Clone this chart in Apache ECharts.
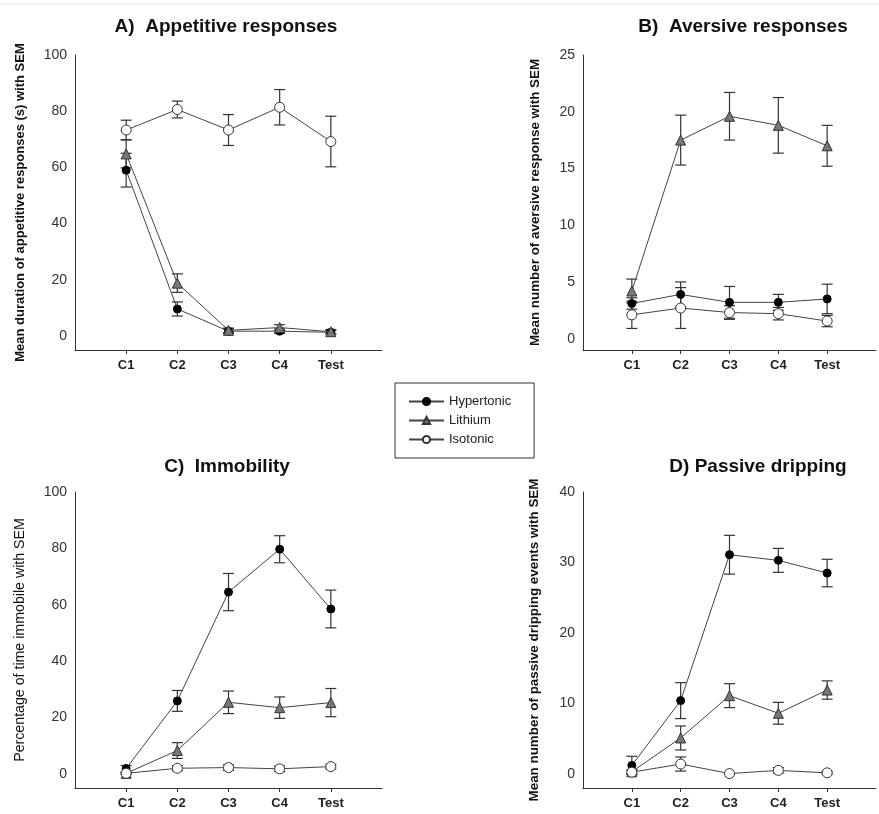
<!DOCTYPE html>
<html>
<head>
<meta charset="utf-8">
<script src="https://cdn.jsdelivr.net/npm/echarts@6/dist/echarts.min.js"></script>
<style>html,body{margin:0;padding:0;background:#fff;}#c{width:879px;height:814px;}</style>
</head>
<body>
<div id="c"></div>
<script>
// ---------- data ----------
var categories = ['C1', 'C2', 'C3', 'C4', 'Test'];
var groups = ['Hypertonic', 'Lithium', 'Isotonic'];

// A) Appetitive responses
var appHyper = [59.0, 9.6, 1.7, 1.7, 1.3];
var appHyperSem = [6.0, 2.5, 0.8, 0.8, 0.6];
var appLith = [64.8, 18.8, 2.0, 3.0, 1.5];
var appLithSem = [5.0, 3.3, 0.8, 1.0, 0.8];
var appIso = [73.3, 80.6, 73.3, 81.4, 69.2];
var appIsoSem = [3.5, 3.0, 5.5, 6.3, 9.0];

// B) Aversive responses
var avHyper = [3.1, 3.9, 3.2, 3.2, 3.5];
var avHyperSem = [0.5, 1.1, 1.4, 0.7, 1.3];
var avLith = [4.2, 17.5, 19.6, 18.8, 17.0];
var avLithSem = [1.05, 2.2, 2.1, 2.45, 1.8];
var avIso = [2.1, 2.7, 2.3, 2.2, 1.55];
var avIsoSem = [1.2, 1.8, 0.6, 0.55, 0.5];

// C) Immobility
var imHyper = [1.9, 25.9, 64.5, 79.7, 58.5];
var imHyperSem = [1.1, 3.7, 6.6, 4.8, 6.7];
var imLith = [0.2, 8.3, 25.4, 23.5, 25.3];
var imLithSem = [0.3, 2.8, 4.0, 3.8, 5.0];
var imIso = [0.2, 2.0, 2.25, 1.8, 2.6];
var imIsoSem = [0.3, 0.9, 1.0, 1.0, 0.8];

// D) Passive dripping
var pdHyper = [1.2, 10.4, 31.1, 30.3, 28.5];
var pdHyperSem = [1.3, 2.55, 2.75, 1.7, 1.95];
var pdLith = [0.3, 5.1, 11.1, 8.6, 11.9];
var pdLithSem = [0.3, 1.7, 1.7, 1.55, 1.3];
var pdIso = [0.24, 1.4, 0.05, 0.5, 0.15];
var pdIsoSem = [0.3, 1.0, 0.1, 0.4, 0.2];

// axis ticks
var ticksA = [0, 20, 40, 60, 80, 100];
var ticksB = [0, 5, 10, 15, 20, 25];
var ticksC = [0, 20, 40, 60, 80, 100];
var ticksD = [0, 10, 20, 30, 40];

// ---------- chart ----------
var xLabels = [''].concat(categories).concat(['']);
var FONT = 'Liberation Sans, Arial, sans-serif';

var panels = [
  { title: 'A)  Appetitive responses', yName: 'Mean duration of appetitive responses (s) with SEM',
    nameBold: true, nameSize: 13, nameGap: 48, min: -5, max: 100, ticks: ticksA,
    grid: { left: 75, top: 55, width: 307, height: 295 }, titlePos: [221, 12],
    series: [[appHyper, appHyperSem], [appLith, appLithSem], [appIso, appIsoSem]] },
  { title: 'B)  Aversive responses', yName: 'Mean number of aversive response with SEM',
    nameBold: true, nameSize: 13.4, nameGap: 41, min: -1, max: 25, ticks: ticksB,
    grid: { left: 583, top: 55, width: 307, height: 295 }, titlePos: [738, 12],
    series: [[avHyper, avHyperSem], [avLith, avLithSem], [avIso, avIsoSem]] },
  { title: 'C)  Immobility', yName: 'Percentage of time immobile with SEM',
    nameBold: false, nameSize: 14.2, nameGap: 48, min: -5, max: 100, ticks: ticksC,
    grid: { left: 75, top: 492, width: 307, height: 296 }, titlePos: [222, 452],
    series: [[imHyper, imHyperSem], [imLith, imLithSem], [imIso, imIsoSem]] },
  { title: 'D) Passive dripping', yName: 'Mean number of passive dripping events with SEM',
    nameBold: true, nameSize: 13.4, nameGap: 42, min: -2, max: 40, ticks: ticksD,
    grid: { left: 583, top: 492, width: 307, height: 296 }, titlePos: [753, 452],
    series: [[pdHyper, pdHyperSem], [pdLith, pdLithSem], [pdIso, pdIsoSem]] }
];

var styles = {
  Hypertonic: { symbol: 'circle', symbolSize: 8, itemStyle: { color: '#000', borderColor: '#000', borderWidth: 1 } },
  Lithium: { symbol: 'triangle', symbolSize: 10, itemStyle: { color: '#777', borderColor: '#333', borderWidth: 1 } },
  Isotonic: { symbol: 'circle', symbolSize: 10, itemStyle: { color: '#fff', borderColor: '#333', borderWidth: 1 } }
};

var option = {
  animation: false,
  backgroundColor: '#fff',
  title: [],
  grid: [],
  xAxis: [],
  yAxis: [],
  series: [],
  graphic: [{ type: 'line', shape: { x1: 0, y1: 4, x2: 879, y2: 4 }, style: { stroke: '#e6e6e6', lineWidth: 1 } }],
  legend: {
    data: groups,
    orient: 'vertical',
    left: 395, top: 383,
    padding: [12, 23, 12, 13],
    itemWidth: 35, itemHeight: 9, itemGap: 6,
    borderColor: '#333', borderWidth: 1,
    textStyle: { fontFamily: FONT, fontSize: 13, color: '#222', lineHeight: 13 }
  }
};

function errRender(params, api) {
  var x = api.value(0);
  var lo = api.coord([x, api.value(1)]);
  var hi = api.coord([x, api.value(2)]);
  var w = 5.5;
  var st = { stroke: '#333', lineWidth: 1.2 };
  return { type: 'group', children: [
    { type: 'line', shape: { x1: lo[0], y1: lo[1], x2: hi[0], y2: hi[1] }, style: st },
    { type: 'line', shape: { x1: lo[0] - w, y1: lo[1], x2: lo[0] + w, y2: lo[1] }, style: st },
    { type: 'line', shape: { x1: hi[0] - w, y1: hi[1], x2: hi[0] + w, y2: hi[1] }, style: st }
  ] };
}

panels.forEach(function (p, k) {
  option.title.push({
    text: p.title, left: p.titlePos[0], top: p.titlePos[1], textAlign: 'center',
    textStyle: { fontFamily: FONT, fontSize: 19, fontWeight: 'bold', color: '#111' }
  });
  option.grid.push(p.grid);
  option.xAxis.push({
    type: 'category', gridIndex: k, data: xLabels, boundaryGap: false,
    axisLine: { onZero: false, lineStyle: { color: '#333', width: 1 } },
    axisTick: { show: true, length: 4, interval: function (i, v) { return v !== ''; }, lineStyle: { color: '#333' } },
    axisLabel: { interval: 0, margin: 9, fontFamily: FONT, fontSize: 13, fontWeight: 'bold', color: '#222' },
    splitLine: { show: false }
  });
  option.yAxis.push({
    type: 'value', gridIndex: k, min: p.min, max: p.max,
    name: p.yName, nameLocation: 'middle', nameGap: p.nameGap, nameRotate: 90,
    nameTextStyle: { fontFamily: FONT, fontSize: p.nameSize, fontWeight: p.nameBold ? 'bold' : 'normal', color: '#111' },
    axisLine: { show: true, lineStyle: { color: '#333', width: 1 } },
    axisTick: { show: false },
    axisLabel: { customValues: p.ticks, margin: 8, fontFamily: FONT, fontSize: 14, color: '#333' },
    splitLine: { show: false }
  });
  p.series.forEach(function (s, g) {
    var name = groups[g];
    var mean = s[0], sem = s[1];
    option.series.push({
      type: 'custom', name: name + ' SEM', xAxisIndex: k, yAxisIndex: k, z: 2,
      renderItem: errRender,
      data: mean.map(function (v, i) { return [categories[i], v - sem[i], v + sem[i]]; }),
      encode: { x: 0, y: [1, 2] }, silent: true
    });
    option.series.push({
      type: 'line', name: name, xAxisIndex: k, yAxisIndex: k, z: 3 + g,
      symbol: styles[name].symbol, symbolSize: styles[name].symbolSize,
      itemStyle: styles[name].itemStyle,
      lineStyle: { color: '#444', width: 1 },
      data: mean.map(function (v, i) { return [categories[i], v]; })
    });
  });
});

var chart = echarts.init(document.getElementById('c'), null, { renderer: 'canvas' });
chart.setOption(option);
</script>
</body>
</html>
